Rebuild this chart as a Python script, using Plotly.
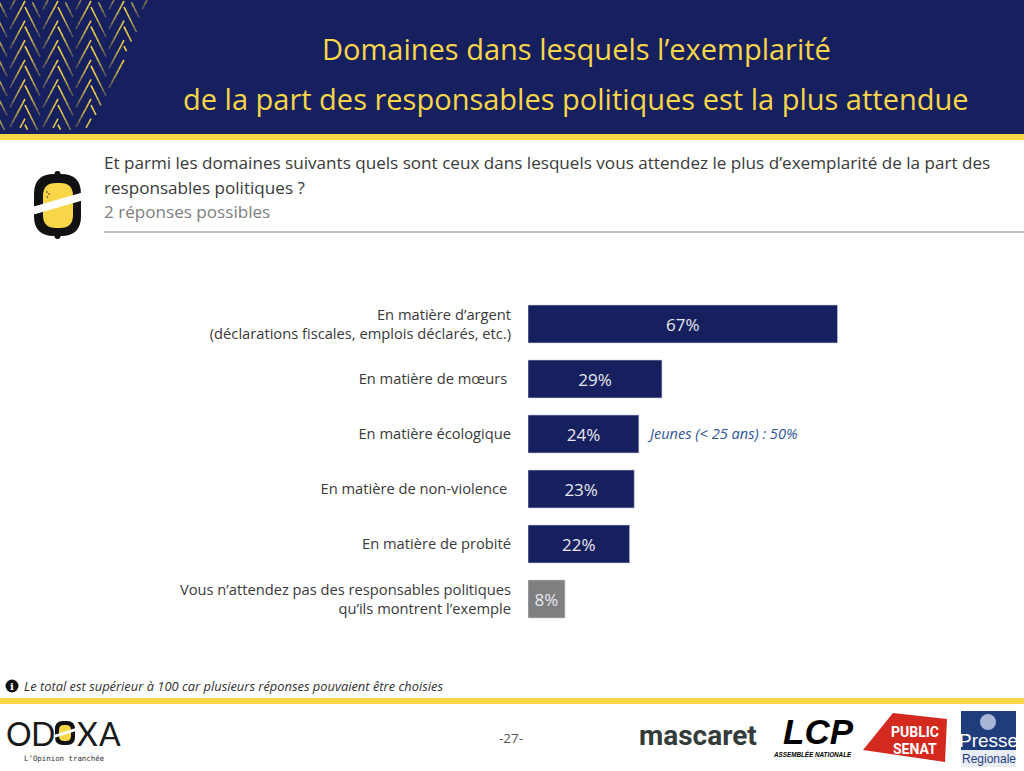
import plotly.graph_objects as go

categories = [
    "En matière d’argent<br>(déclarations fiscales, emplois déclarés, etc.)",
    "En matière de mœurs ",
    "En matière écologique",
    "En matière de non-violence ",
    "En matière de probité",
    "Vous n’attendez pas des responsables politiques<br>qu’ils montrent l’exemple",
]
values = [67, 29, 24, 23, 22, 8]
labels = ["67%", "29%", "24%", "23%", "22%", "8%"]

NAVY = "#17205e"
YEL = "#f9d648"
GREY = "#7f7f7f"
FONT = "Open Sans"
W, H = 1024, 771


def X(p):
    return p / W


def Y(p):
    return 1 - p / H


def rect(x0, y0, x1, y1, color):
    return dict(type="rect", xref="paper", yref="paper", x0=X(x0), x1=X(x1), y0=Y(y0), y1=Y(y1),
                fillcolor=color, line_width=0, layer="below")


def line(x0, y0, x1, y1, color, w=1.3, op=1.0):
    return dict(type="line", xref="paper", yref="paper", x0=X(x0), x1=X(x1), y0=Y(y0), y1=Y(y1),
                line=dict(color=color, width=w), opacity=op, layer="below")


def path(pts, color):
    d = "M" + " L".join(f"{X(a):.5f},{Y(b):.5f}" for a, b in pts) + " Z"
    return dict(type="path", xref="paper", yref="paper", path=d, fillcolor=color, line_width=0)


def rounded(x0, y0, x1, y1, r, color):
    P = lambda a, b: f"{X(a):.5f},{Y(b):.5f}"
    d = (f"M{P(x0 + r, y0)} L{P(x1 - r, y0)} Q{P(x1, y0)} {P(x1, y0 + r)} L{P(x1, y1 - r)} "
         f"Q{P(x1, y1)} {P(x1 - r, y1)} L{P(x0 + r, y1)} Q{P(x0, y1)} {P(x0, y1 - r)} "
         f"L{P(x0, y0 + r)} Q{P(x0, y0)} {P(x0 + r, y0)} Z")
    return dict(type="path", xref="paper", yref="paper", path=d, fillcolor=color, line_width=0)


def circle(cx, cy, rx, ry, color):
    return dict(type="circle", xref="paper", yref="paper", x0=X(cx - rx), x1=X(cx + rx), y0=Y(cy + ry), y1=Y(cy - ry),
                fillcolor=color, line_width=0)


def txt(x, y, s, size, color, anchor="left", **kw):
    return dict(xref="paper", yref="paper", x=X(x), y=Y(y), text=s, showarrow=False, xanchor=anchor, yanchor="middle",
                borderpad=0, borderwidth=0,
                font=dict(family=kw.pop("family", FONT), size=size, color=color), **kw)


shapes = [rect(0, 0, W, 134, NAVY), rect(0, 134, W, 140, YEL), rect(104, 231, W, 233, "#bdbdbd"),
          rect(0, 698, W, 704, YEL)]


# header herringbone: each leg is bright at its top and fades towards the bottom
def leg(x0, y0, x1, y1, peak):
    pieces = []
    n = 6
    for i in range(n):
        ax, ay = x0 + (x1 - x0) * i / n, y0 + (y1 - y0) * i / n
        bx, by = x0 + (x1 - x0) * (i + 1) / n, y0 + (y1 - y0) * (i + 1) / n
        limit = 157 - 0.5 * max(ay, by)
        if min(ay, by) < 0 or max(ay, by) > 132 or max(ax, bx) > limit or max(ax, bx) < 0:
            continue
        pieces.append(line(ax, ay, bx, by, YEL, 1.6, peak * (1 - (i / n) ** 1.5 * 0.9)))
    return pieces


for cx in (-8, 25, 58, 91, 124, 157):
    for r in range(-1, 7):
        ytop = r * 19.6 + 1
        shapes += leg(cx, ytop, cx - 15, ytop + 28, 0.95)
        shapes += leg(cx, ytop + 6, cx + 15, ytop + 36, 1.0)

# lemon icon
shapes += [
    circle(57.5, 174, 3, 3, "#111111"),
    circle(57.5, 236, 3, 3, "#111111"),
    rounded(34, 174, 81, 236, 20, "#111111"),
    rounded(43, 183, 73, 228, 13, YEL),
    circle(47, 192, 0.8, 0.8, "#333333"),
    circle(49, 194, 0.8, 0.8, "#333333"),
    circle(47.5, 197, 0.8, 0.8, "#333333"),
    path([(32, 207), (84, 192), (84, 200), (32, 215)], "#ffffff"),
    # info marker
    circle(12, 686, 6.5, 6.5, "#111111"),
    # odoxa logo
    rounded(55, 721, 75, 745, 8, "#111111"),
    rounded(59, 725, 71, 741, 5, YEL),
    path([(54, 735), (76, 728), (76, 731), (54, 738)], "#ffffff"),
    # public senat
    path([(863, 750), (893, 713), (947, 719), (945, 762)], "#d3291f"),
    # presse regionale
    rect(961, 711, 1016, 767, "#1f3c7c"),
    rect(961, 750, 1016, 767, "#e8ecf4"),
    circle(988, 722, 8, 8, "#a9b6d3"),
]

annotations = [
    txt(576, 48, "Domaines dans lesquels l’exemplarité", 29, YEL, "center"),
    txt(576, 98, "de la part des responsables politiques est la plus attendue", 29, YEL, "center"),
    txt(104, 162, "Et parmi les domaines suivants quels sont ceux dans lesquels vous attendez le plus d’exemplarité de la part des", 17.1, "#3a3a3a"),
    txt(104, 187, "responsables politiques ?", 17.1, "#3a3a3a"),
    txt(104, 211, "2 réponses possibles", 17.1, "#808080"),
    txt(647, 433, "<i>Jeunes (< 25 ans) : 50%</i>", 14.6, "#2f5597"),
    txt(12, 686, "<b>i</b>", 10, "#ffffff", "center", family="DejaVu Serif"),
    txt(24, 686, "<i>Le total est supérieur à 100 car plusieurs réponses pouvaient être choisies</i>", 12.9, "#333333"),
    txt(511, 738, "-27-", 13.5, "#555555", "center"),
    txt(19, 733, "O", 32, "#1a1a1a", "center", family="Lato"),
    txt(43, 733, "D", 32, "#1a1a1a", "center", family="Lato"),
    txt(87, 733, "X", 32, "#1a1a1a", "center", family="Lato"),
    txt(110, 733, "A", 32, "#1a1a1a", "center", family="Lato"),
    txt(64, 758, "L’Opinion tranchée", 7.4, "#333333", "center", family="DejaVu Sans Mono"),
    txt(698, 735, "<b>mascaret</b>", 28, "#333b3b", "center", family="Roboto"),
    txt(818, 731, "<b><i>LCP</i></b>", 35, "#000000", "center", family="Liberation Sans"),
    txt(812, 754, "<b><i>ASSEMBLÉE NATIONALE</i></b>", 6.3, "#000000", "center", family="Liberation Sans"),
    txt(915, 732, "<b>PUBLIC</b>", 14, "#ffffff", "center", family="Roboto"),
    txt(915, 749, "<b>SENAT</b>", 14, "#ffffff", "center", family="Roboto"),
    txt(988, 740, "Presse", 19, "#ffffff", "center", family="Liberation Sans"),
    txt(989, 759, "Regionale", 12, "#1f3c7c", "center", family="Liberation Sans"),
]

colors = [NAVY] * 5 + [GREY]

fig = go.Figure(go.Bar(
    x=values, y=categories, orientation="h",
    marker=dict(color=colors, line=dict(color="#c8cbe0", width=0.6)),
    width=0.69, text=labels, textposition="inside", insidetextanchor="middle",
    textangle=0, textfont=dict(family=FONT, size=17, color="#e8e8f2"),
    cliponaxis=False, hoverinfo="skip",
))
fig.update_layout(
    width=W, height=H, margin=dict(l=0, r=0, t=0, b=0, pad=0), autosize=False,
    paper_bgcolor="#ffffff", plot_bgcolor="rgba(0,0,0,0)", showlegend=False,
    shapes=shapes, annotations=annotations,
    xaxis=dict(domain=[528 / W, 990 / W], range=[0, 100], visible=False),
    yaxis=dict(domain=[1 - 626.5 / H, 1 - 296.5 / H], autorange="reversed", automargin=False,
               showline=False, showgrid=False, zeroline=False, ticks="outside", ticklen=13,
               tickcolor="rgba(0,0,0,0)", tickfont=dict(family=FONT, size=14.7, color="#3a3a3a")),
)
fig.write_html("out.html", config=dict(displayModeBar=False),
               post_script="document.body.style.margin='0';document.body.style.overflow='hidden';")
